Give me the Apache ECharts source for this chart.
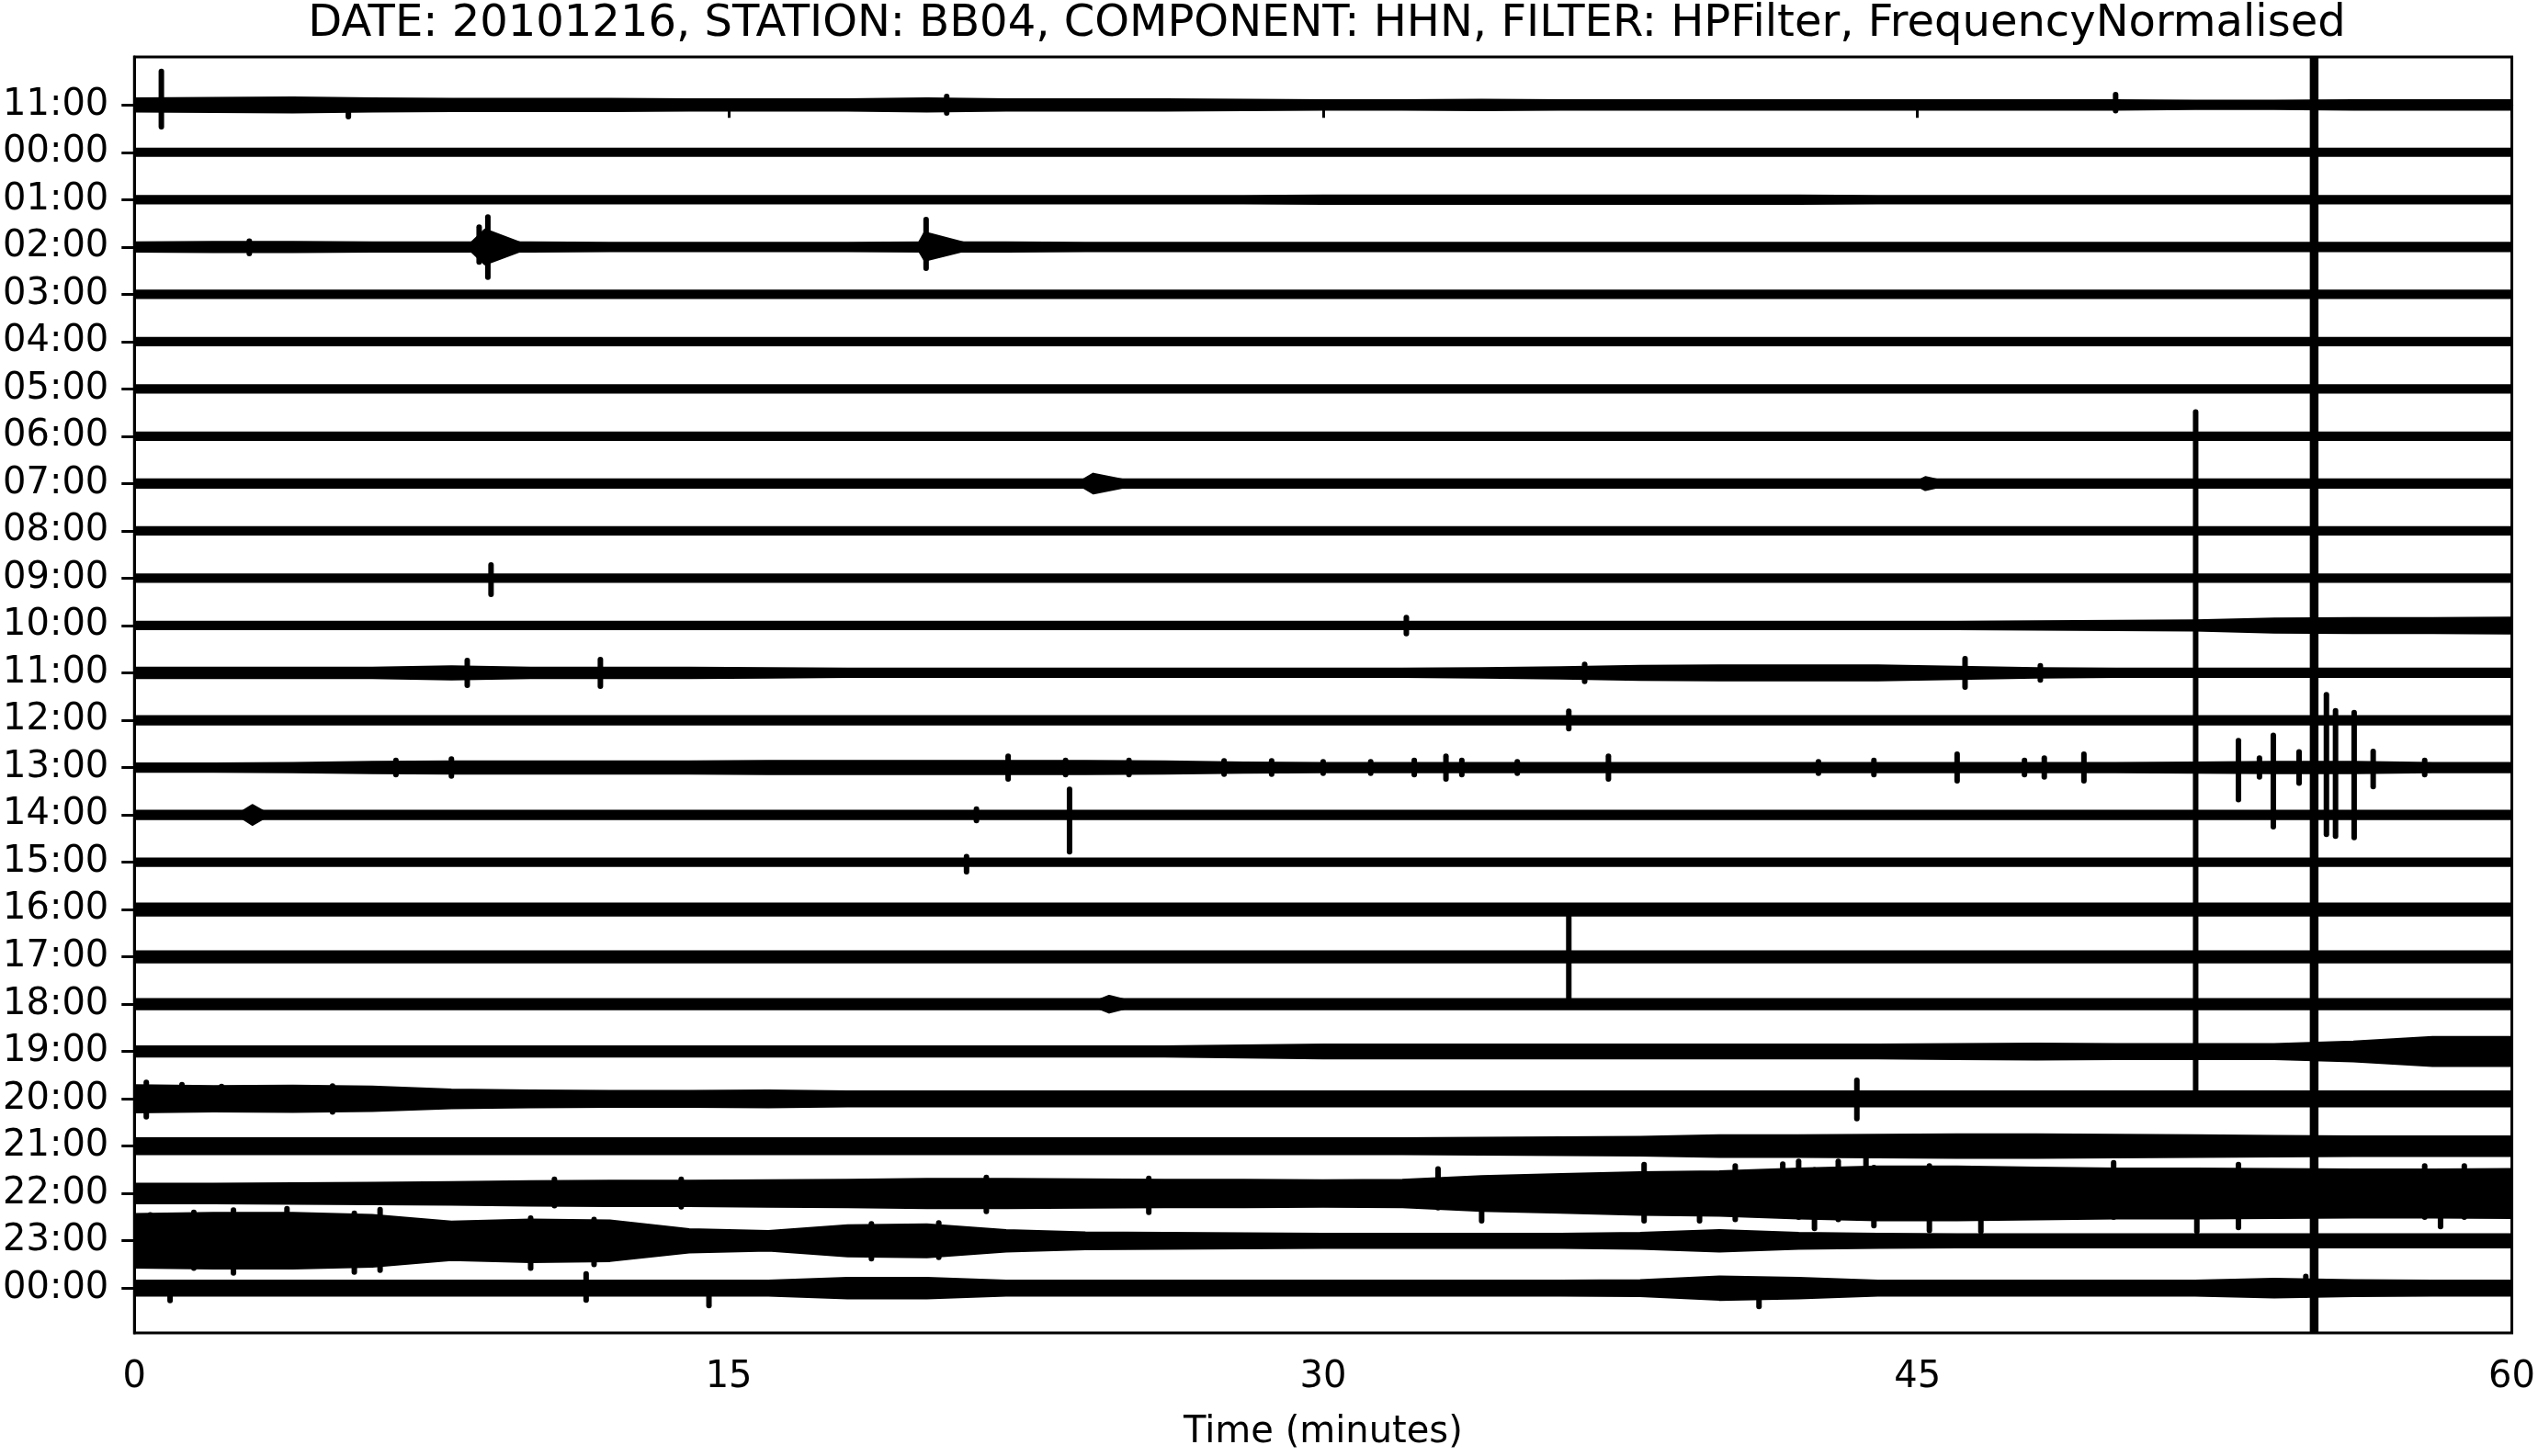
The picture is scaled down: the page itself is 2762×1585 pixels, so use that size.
<!DOCTYPE html>
<html>
<head>
<meta charset="utf-8">
<script src="https://cdn.jsdelivr.net/npm/echarts@6/dist/echarts.min.js"></script>
<style>
  html, body { margin: 0; padding: 0; background: #fff; }
  #heli { width: 2762px; height: 1585px; }
</style>
</head>
<body>
<div id="heli"></div>
<script>
// row labels, top to bottom
var hourLabels = ['11:00', '00:00', '01:00', '02:00', '03:00', '04:00', '05:00', '06:00', '07:00',
  '08:00', '09:00', '10:00', '11:00', '12:00', '13:00', '14:00', '15:00', '16:00', '17:00',
  '18:00', '19:00', '20:00', '21:00', '22:00', '23:00', '00:00'];

var xTicks = [0, 15, 30, 45, 60];

// envelope sample times (minutes)
var minutes = [0, 2, 4, 6, 8, 10, 12, 14, 16, 18, 20, 22, 24, 26, 28, 30, 32, 34, 36, 38, 40, 42, 44, 46, 48, 50, 52, 54, 56, 58, 60];

// half-thickness of each trace, hundredths of a row, read at the times above
var envelope = [
  [13, 14, 15, 13, 12, 12, 12, 11, 11, 11, 13, 11, 11, 11, 10, 9, 9, 10, 9, 9, 9, 9, 9, 9, 9, 9, 8, 8, 9, 9, 9],
  [7, 7, 7, 7, 7, 7, 7, 7, 7, 7, 7, 7, 7, 7, 7, 7, 7, 7, 7, 7, 7, 7, 7, 7, 7, 7, 7, 7, 7, 7, 7],
  [7, 7, 7, 7, 7, 7, 7, 7, 7, 7, 7, 7, 7, 7, 7, 8, 8, 8, 8, 8, 8, 8, 7, 7, 7, 7, 7, 7, 7, 7, 7],
  [9, 10, 10, 9, 9, 9, 8, 8, 8, 8, 9, 9, 8, 8, 8, 8, 8, 8, 8, 8, 8, 8, 8, 8, 8, 8, 8, 8, 8, 8, 8],
  [7, 7, 7, 7, 7, 7, 7, 7, 7, 7, 7, 7, 7, 7, 7, 7, 7, 7, 7, 7, 7, 7, 7, 7, 7, 7, 7, 7, 7, 7, 7],
  [7, 7, 7, 7, 7, 7, 7, 7, 7, 7, 7, 7, 7, 7, 7, 7, 7, 7, 7, 7, 7, 7, 7, 7, 7, 7, 7, 7, 7, 7, 7],
  [7, 7, 7, 7, 7, 7, 7, 7, 7, 7, 7, 7, 7, 7, 7, 7, 7, 7, 7, 7, 7, 7, 7, 7, 7, 7, 7, 7, 7, 7, 7],
  [7, 7, 7, 7, 7, 7, 7, 7, 7, 7, 7, 7, 7, 7, 7, 7, 7, 7, 7, 7, 7, 7, 7, 7, 7, 7, 7, 7, 7, 7, 7],
  [8, 8, 8, 8, 8, 8, 8, 8, 8, 8, 8, 8, 8, 8, 8, 8, 8, 8, 8, 8, 8, 8, 8, 8, 8, 8, 8, 8, 8, 8, 8],
  [7, 7, 7, 7, 7, 7, 7, 7, 7, 7, 7, 7, 7, 7, 7, 7, 7, 7, 7, 7, 7, 7, 7, 7, 7, 7, 7, 7, 7, 7, 7],
  [7, 7, 7, 7, 7, 7, 7, 7, 7, 7, 7, 7, 7, 7, 7, 7, 7, 7, 7, 7, 7, 7, 7, 7, 7, 7, 7, 7, 7, 7, 7],
  [7, 7, 7, 7, 7, 7, 7, 7, 7, 7, 7, 7, 7, 7, 7, 7, 7, 7, 7, 7, 7, 7, 7, 7, 8, 9, 10, 14, 15, 15, 16],
  [10, 10, 10, 10, 13, 10, 10, 10, 9, 8, 8, 8, 8, 8, 8, 8, 8, 9, 11, 14, 15, 15, 15, 12, 9, 8, 8, 8, 8, 8, 8],
  [8, 8, 8, 8, 8, 8, 8, 8, 8, 8, 8, 8, 8, 8, 8, 8, 8, 8, 8, 8, 8, 8, 8, 8, 8, 8, 8, 8, 8, 8, 8],
  [8, 8, 9, 11, 12, 12, 12, 12, 13, 13, 13, 13, 13, 12, 10, 9, 9, 9, 9, 9, 9, 9, 9, 9, 9, 9, 10, 11, 11, 9, 9],
  [8, 8, 8, 8, 8, 8, 8, 8, 8, 8, 8, 8, 8, 8, 8, 8, 8, 8, 8, 8, 8, 8, 8, 8, 8, 8, 8, 8, 8, 8, 8],
  [7, 7, 7, 7, 7, 7, 7, 7, 7, 7, 7, 7, 7, 7, 7, 7, 7, 7, 7, 7, 7, 7, 7, 7, 7, 7, 7, 7, 7, 7, 7],
  [12, 12, 12, 12, 12, 12, 12, 12, 12, 12, 12, 12, 12, 12, 12, 12, 12, 12, 12, 12, 12, 12, 12, 12, 12, 12, 12, 12, 12, 12, 12],
  [11, 11, 11, 11, 11, 11, 11, 11, 11, 11, 11, 11, 11, 11, 11, 11, 11, 11, 11, 11, 11, 11, 11, 11, 11, 11, 11, 11, 11, 11, 11],
  [10, 10, 10, 10, 10, 10, 10, 10, 10, 10, 10, 10, 10, 10, 10, 10, 10, 10, 10, 10, 10, 10, 10, 10, 10, 10, 10, 10, 10, 10, 10],
  [10, 10, 10, 10, 10, 10, 10, 10, 10, 10, 10, 10, 10, 10, 12, 14, 14, 14, 14, 14, 14, 14, 14, 15, 16, 15, 15, 15, 20, 30, 30],
  [28, 26, 27, 25, 19, 17, 16, 16, 17, 15, 15, 15, 15, 15, 15, 15, 15, 15, 15, 15, 15, 15, 15, 15, 15, 15, 15, 15, 15, 15, 15],
  [16, 16, 16, 16, 16, 16, 16, 16, 16, 16, 16, 16, 16, 16, 16, 16, 16, 17, 18, 19, 22, 22, 23, 24, 24, 23, 22, 21, 20, 20, 20],
  [20, 20, 21, 22, 23, 25, 26, 26, 27, 28, 30, 30, 29, 28, 28, 27, 28, 36, 40, 44, 46, 52, 56, 56, 54, 52, 52, 51, 50, 50, 51],
  [56, 58, 58, 54, 40, 44, 42, 24, 20, 32, 34, 22, 17, 16, 15, 14, 14, 14, 14, 16, 22, 16, 14, 13, 13, 13, 13, 13, 13, 13, 13],
  [15, 15, 15, 15, 15, 15, 15, 15, 15, 21, 21, 15, 15, 15, 15, 15, 15, 15, 15, 16, 24, 21, 15, 15, 15, 15, 15, 19, 16, 15, 15]
];

// short wave packets: [row, start, peak, end, up, down] (rows)
var bursts = [
  [3, 8.4, 8.85, 10.0, 0.36, 0.36],
  [3, 19.75, 19.95, 21.3, 0.30, 0.28],
  [8, 23.8, 24.2, 25.4, 0.20, 0.20],
  [8, 44.9, 45.2, 45.9, 0.13, 0.13],
  [15, 2.6, 2.98, 3.4, 0.20, 0.20],
  [19, 24.1, 24.6, 25.4, 0.17, 0.17]
];

// single spikes: [row, minute, up, down] (rows)
var spikes = [
  [0, 0.68, 0.71, 0.46], [0, 5.4, 0.10, 0.25], [0, 20.5, 0.18, 0.17], [0, 50.0, 0.22, 0.12],
  [3, 2.9, 0.12, 0.14], [3, 8.7, 0.42, 0.32], [3, 8.92, 0.63, 0.64], [3, 19.98, 0.58, 0.45],
  [10, 9.0, 0.28, 0.34],
  [11, 32.1, 0.17, 0.17],
  [12, 8.4, 0.26, 0.26], [12, 11.76, 0.28, 0.28], [12, 36.6, 0.18, 0.18], [12, 46.2, 0.30, 0.30], [12, 48.1, 0.15, 0.15],
  [13, 36.2, 0.19, 0.18],
  [14, 6.6, 0.15, 0.15], [14, 8.0, 0.18, 0.18], [14, 22.05, 0.24, 0.24], [14, 23.5, 0.15, 0.15],
  [14, 25.1, 0.15, 0.15], [14, 27.5, 0.14, 0.14], [14, 28.7, 0.14, 0.14], [14, 30.0, 0.12, 0.12],
  [14, 31.2, 0.12, 0.12], [14, 32.3, 0.15, 0.15], [14, 33.1, 0.24, 0.24], [14, 33.5, 0.15, 0.15],
  [14, 34.9, 0.12, 0.12], [14, 37.2, 0.24, 0.24], [14, 42.5, 0.12, 0.12], [14, 43.9, 0.15, 0.15],
  [14, 46.0, 0.28, 0.28], [14, 47.7, 0.15, 0.15], [14, 48.2, 0.20, 0.20], [14, 49.2, 0.28, 0.28],
  [14, 52.02, 7.51, 6.85], [14, 53.1, 0.57, 0.68], [14, 53.63, 0.20, 0.20], [14, 53.98, 0.68, 1.25],
  [14, 54.63, 0.33, 0.33], [14, 54.97, 16, 13], [14, 55.05, 16, 13], [14, 55.32, 1.54, 1.41],
  [14, 55.55, 1.20, 1.45], [14, 56.02, 1.16, 1.48], [14, 56.5, 0.34, 0.40], [14, 57.8, 0.15, 0.15],
  [15, 21.25, 0.12, 0.12], [15, 23.6, 0.54, 0.78],
  [16, 21.0, 0.12, 0.20],
  [18, 36.2, 0.88, 0.90],
  [21, 0.3, 0.35, 0.38], [21, 1.2, 0.30, 0.22], [21, 2.2, 0.26, 0.20], [21, 5.0, 0.27, 0.28], [21, 43.47, 0.39, 0.42],
  [23, 10.6, 0.30, 0.26], [23, 13.8, 0.30, 0.28], [23, 21.5, 0.34, 0.38], [23, 25.6, 0.32, 0.40],
  [23, 32.9, 0.52, 0.30], [23, 34.0, 0.30, 0.58], [23, 38.1, 0.61, 0.58], [23, 39.5, 0.40, 0.58],
  [23, 40.4, 0.58, 0.55], [23, 41.6, 0.62, 0.45], [23, 42.0, 0.68, 0.50], [23, 42.4, 0.50, 0.74],
  [23, 43.0, 0.68, 0.55], [23, 43.7, 0.74, 0.50], [23, 43.9, 0.55, 0.68], [23, 45.3, 0.58, 0.78],
  [23, 46.6, 0.50, 0.80], [23, 49.95, 0.65, 0.50], [23, 52.05, 0.45, 0.80], [23, 53.1, 0.61, 0.72],
  [23, 57.8, 0.58, 0.50], [23, 58.2, 0.45, 0.70], [23, 58.8, 0.58, 0.50],
  [24, 0.4, 0.55, 0.50], [24, 1.5, 0.60, 0.58], [24, 2.5, 0.65, 0.68], [24, 3.85, 0.68, 0.55],
  [24, 5.55, 0.58, 0.66], [24, 6.2, 0.66, 0.62], [24, 10.0, 0.48, 0.58], [24, 11.6, 0.45, 0.50],
  [24, 18.6, 0.36, 0.38], [24, 20.3, 0.38, 0.35],
  [25, 0.9, 0.10, 0.26], [25, 11.4, 0.30, 0.25], [25, 14.5, 0.10, 0.37], [25, 41.0, 0.15, 0.39], [25, 54.8, 0.25, 0.15]
];

var font = 'DejaVu Sans';
var myChart = echarts.init(document.getElementById('heli'));

option = {
    animation: false,
    title: {
        text: 'DATE: 20101216, STATION: BB04, COMPONENT: HHN, FILTER: HPFilter, FrequencyNormalised',
        left: 1439,
        top: -2,
        textAlign: 'center',
        textStyle: { fontFamily: font, fontSize: 48, fontWeight: 'normal', color: '#000' }
    },
    grid: {
        left: 144, right: 28, top: 62, bottom: 124,
        show: true, borderColor: '#000', borderWidth: 3, backgroundColor: '#fff'
    },
    xAxis: {
        type: 'value',
        min: 0, max: 60, interval: 15,
        name: 'Time (minutes)',
        nameLocation: 'middle',
        nameGap: 89,
        nameTextStyle: { fontFamily: font, fontSize: 40, color: '#000' },
        axisLine: { show: true, lineStyle: { color: '#000', width: 3 } },
        axisTick: { show: true, length: 14, lineStyle: { color: '#000', width: 3 } },
        axisLabel: { fontFamily: font, fontSize: 40, color: '#000', margin: 29 },
        splitLine: { show: false }
    },
    yAxis: {
        type: 'value',
        inverse: true,
        min: -1.014, max: 25.946,
        axisLine: { show: true, lineStyle: { color: '#000', width: 3 } },
        axisTick: {
            show: true, length: 14,
            customValues: hourLabels.map(function (_, i) { return i; }),
            lineStyle: { color: '#000', width: 3 }
        },
        axisLabel: {
            fontFamily: font, fontSize: 40, color: '#000', margin: 28,
            customValues: hourLabels.map(function (_, i) { return i; }),
            formatter: function (v) { return hourLabels[Math.round(v)] || ''; }
        },
        splitLine: { show: false }
    },
    series: [{
        // one filled band per hour
        type: 'custom',
        clip: true,
        silent: true,
        encode: { x: 0, y: 1 },
        data: hourLabels.map(function (_, i) { return [0, i]; }),
        renderItem: function (params, api) {
            var row = api.value(1);
            var amps = envelope[row];
            var upper = minutes.map(function (t, k) { return api.coord([t, row - amps[k] / 100]); });
            var lower = minutes.map(function (t, k) { return api.coord([t, row + amps[k] / 100]); }).reverse();
            return {
                type: 'polygon',
                shape: { points: upper.concat(lower) },
                style: { fill: '#000', stroke: '#000', lineWidth: 3, lineJoin: 'round' }
            };
        }
    }, {
        type: 'custom',
        clip: true,
        silent: true,
        encode: { x: 1, y: 0 },
        data: bursts,
        renderItem: function (params, api) {
            var row = api.value(0);
            var p = [
                api.coord([api.value(1), row]),
                api.coord([api.value(2), row - api.value(4)]),
                api.coord([api.value(3), row]),
                api.coord([api.value(2), row + api.value(5)])
            ];
            return { type: 'polygon', shape: { points: p }, style: { fill: '#000', stroke: '#000', lineWidth: 3, lineJoin: 'round' } };
        }
    }, {
        type: 'custom',
        clip: true,
        silent: true,
        encode: { x: 1, y: 0 },
        data: spikes,
        renderItem: function (params, api) {
            var row = api.value(0), t = api.value(1);
            var a = api.coord([t, row - api.value(2)]);
            var b = api.coord([t, row + api.value(3)]);
            return {
                type: 'line',
                shape: { x1: a[0], y1: a[1], x2: b[0], y2: b[1] },
                style: { stroke: '#000', lineWidth: 6, lineCap: 'round' }
            };
        }
    }]
};
myChart.setOption(option);
</script>
</body>
</html>
